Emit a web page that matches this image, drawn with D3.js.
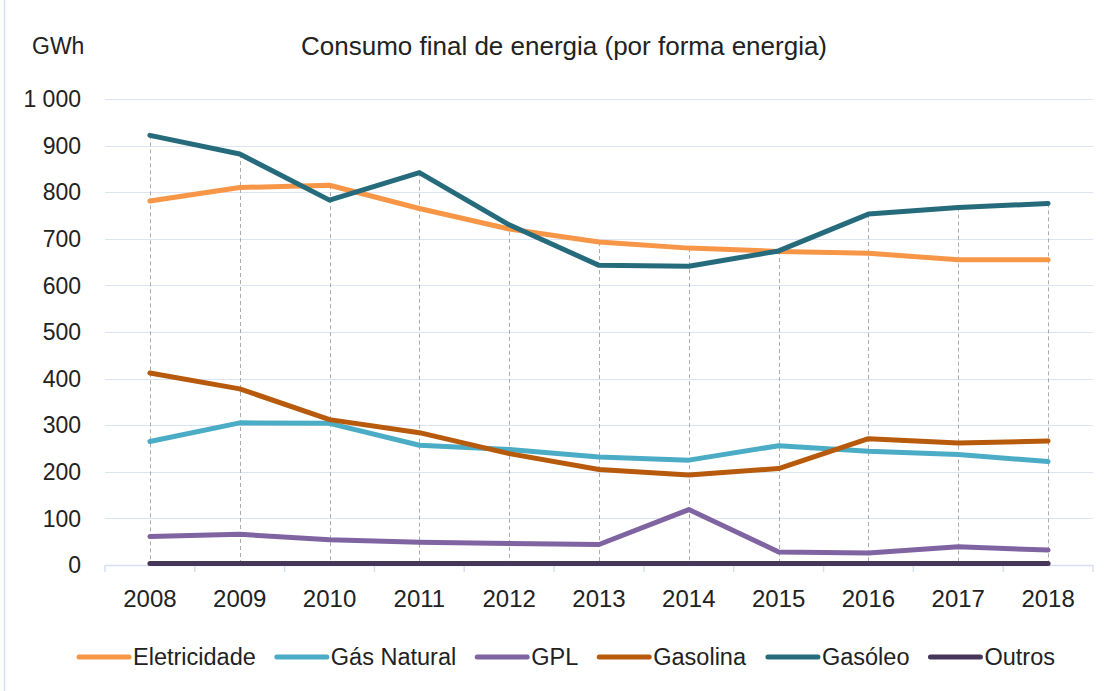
<!DOCTYPE html>
<html>
<head>
<meta charset="utf-8">
<script src="https://cdn.jsdelivr.net/npm/d3@7/dist/d3.min.js"></script>
<style>
  body { margin: 0; background: #fff; }
  text { font-family: "Liberation Sans", Arial, sans-serif; fill: #222; }
</style>
</head>
<body>
<script>
// dados (GWh)
var years = ["2008", "2009", "2010", "2011", "2012", "2013", "2014", "2015", "2016", "2017", "2018"];
var eletricidade = [781, 810, 815, 765, 721, 693, 680, 673, 669, 655, 655];
var gasNatural = [265, 305, 304, 257, 248, 232, 225, 256, 244, 237, 222];
var gpl = [61, 66, 54, 49, 46, 44, 119, 28, 26, 39, 32];
var gasolina = [412, 378, 312, 284, 239, 205, 193, 207, 271, 262, 266];
var gasoleo = [922, 882, 783, 842, 730, 643, 641, 674, 753, 767, 776];
var outros = [3, 3, 3, 3, 3, 3, 3, 3, 3, 3, 3];
var yTicks = [0, 100, 200, 300, 400, 500, 600, 700, 800, 900, 1000];

var series = [
    { name: "Eletricidade", values: eletricidade, color: "#F79646" },
    { name: "Gás Natural", values: gasNatural, color: "#4BACC6" },
    { name: "GPL", values: gpl, color: "#8064A2" },
    { name: "Gasolina", values: gasolina, color: "#B75A0B" },
    { name: "Gasóleo", values: gasoleo, color: "#266B7C" },
    { name: "Outros", values: outros, color: "#46375A" }
];

var W = 1110, H = 691;
var margin = { top: 99, left: 105, right: 17, bottom: 126 },
    width = W - margin.left - margin.right,
    height = H - margin.top - margin.bottom;

var svg = d3.select("body")
    .append("svg")
    .attr("width", W)
    .attr("height", H);

// chart border (only the left edge is visible)
svg.append("line")
    .attr("x1", 4.5).attr("x2", 4.5)
    .attr("y1", 0).attr("y2", H)
    .attr("stroke", "#D6E0F0")
    .attr("stroke-width", 1.5);

var g = svg.append("g").attr("transform", "translate(" + margin.left + "," + margin.top + ")");

var x = d3.scalePoint().domain(years).range([0, width]).padding(0.5),
    xb = d3.scaleBand().domain(years).range([0, width]),
    y = d3.scaleLinear().domain([0, 1000]).range([height, 0]);

// gridlines
g.append("g")
    .selectAll("line")
    .data(yTicks.slice(1))
    .enter().append("line")
    .attr("x1", 0).attr("x2", width)
    .attr("y1", function (d) { return Math.round(y(d)) + 0.5; })
    .attr("y2", function (d) { return Math.round(y(d)) + 0.5; })
    .attr("stroke", "#DCE4F1")
    .attr("stroke-width", 1);

// y labels
g.append("g")
    .selectAll("text")
    .data(yTicks)
    .enter().append("text")
    .attr("x", -24)
    .attr("y", function (d) { return y(d); })
    .attr("dy", "0.36em")
    .attr("text-anchor", "end")
    .style("font-size", "23px")
    .text(function (d) { return d3.format(",")(d).replace(",", " "); });

// x axis: line + ticks between categories
var xAxis = g.append("g")
    .attr("transform", "translate(0," + height + ")")
    .call(d3.axisBottom(xb).tickSize(0).tickFormat(""));
xAxis.select(".domain").attr("stroke", "#D6E0F0").attr("stroke-width", 1.5);
xAxis.selectAll(".tick").remove();

var bounds = years.map(function (d) { return xb(d); }).concat([width]);
xAxis.selectAll("line.sep")
    .data(bounds)
    .enter().append("line")
    .attr("class", "sep")
    .attr("x1", function (d) { return d; })
    .attr("x2", function (d) { return d; })
    .attr("y1", 0).attr("y2", 7)
    .attr("stroke", "#D6E0F0")
    .attr("stroke-width", 1.5);

xAxis.selectAll("text.yr")
    .data(years)
    .enter().append("text")
    .attr("class", "yr")
    .attr("x", function (d) { return x(d); })
    .attr("y", 42)
    .attr("text-anchor", "middle")
    .style("font-size", "24px")
    .text(function (d) { return d; });

// drop lines from the highest point of each year
g.append("g")
    .selectAll("line")
    .data(years)
    .enter().append("line")
    .attr("x1", function (d) { return Math.round(x(d)) + 0.5; })
    .attr("x2", function (d) { return Math.round(x(d)) + 0.5; })
    .attr("y1", function (d, i) {
        return y(d3.max(series, function (s) { return s.values[i]; }));
    })
    .attr("y2", height)
    .attr("stroke", "#ABABAB")
    .attr("stroke-width", 1)
    .attr("stroke-dasharray", "4,3");

var line = d3.line()
    .x(function (d, i) { return x(years[i]); })
    .y(function (d) { return y(d); });

series.forEach(function (s) {
    g.append("path")
        .datum(s.values)
        .attr("fill", "none")
        .attr("class", "line")
        .attr("stroke", s.color)
        .attr("stroke-width", 5)
        .attr("stroke-linejoin", "round")
        .attr("stroke-linecap", "round")
        .attr("d", line);
});

// title and unit
svg.append("text")
    .attr("x", 564)
    .attr("y", 55)
    .attr("text-anchor", "middle")
    .style("font-size", "26px")
    .text("Consumo final de energia (por forma energia)");

svg.append("text")
    .attr("x", 32)
    .attr("y", 54)
    .style("font-size", "23px")
    .text("GWh");

// legend
var legend = svg.append("g").attr("transform", "translate(0,657)");
var items = legend.selectAll("g")
    .data(series)
    .enter().append("g");

items.append("line")
    .attr("x1", 0).attr("x2", 50)
    .attr("y1", 0).attr("y2", 0)
    .attr("stroke", function (d) { return d.color; })
    .attr("stroke-width", 5)
    .attr("stroke-linecap", "round");

items.append("text")
    .attr("x", 54)
    .attr("dy", "0.36em")
    .style("font-size", "23.5px")
    .text(function (d) { return d.name; });

var widths = [];
items.each(function () { widths.push(this.getBBox().width); });
var gap = 21;
var total = d3.sum(widths) + gap * (widths.length - 1);
var cx = 567 - total / 2;
items.attr("transform", function (d, i) {
    var tx = cx;
    cx += widths[i] + gap;
    return "translate(" + tx + ",0)";
});
</script>
</body>
</html>
